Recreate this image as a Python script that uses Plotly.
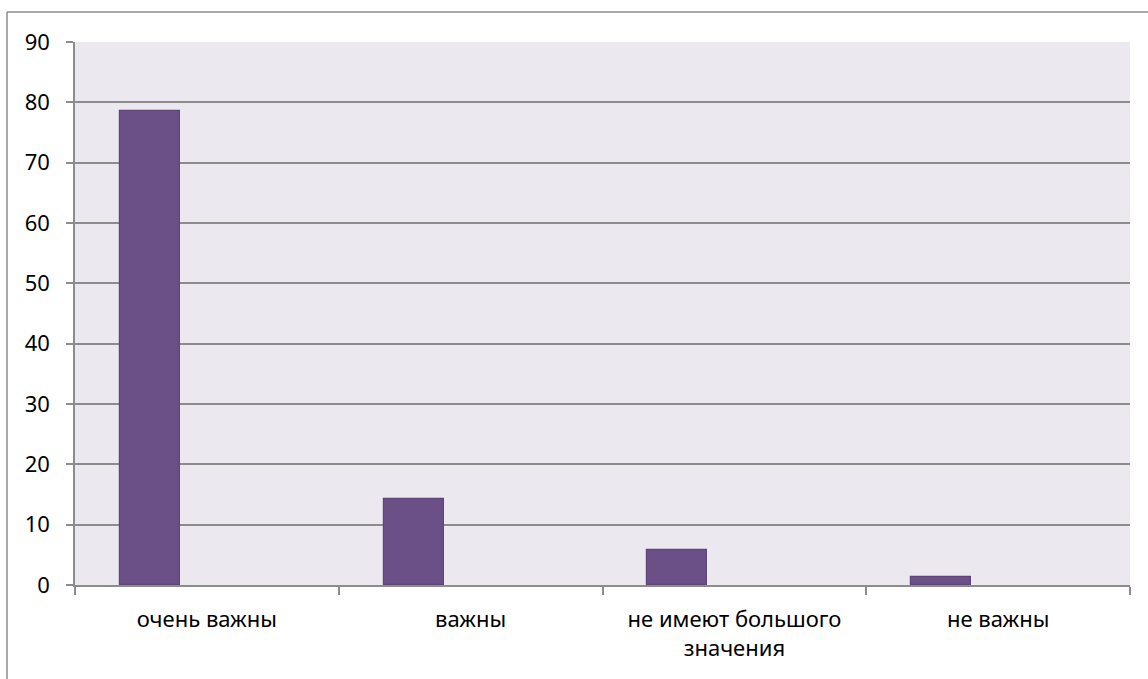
import plotly.graph_objects as go

categories = ["очень важны", "важны", "не имеют большого<br>значения", "не важны"]
values = [78.6, 14.3, 5.8, 1.3]
y_ticks = [0, 10, 20, 30, 40, 50, 60, 70, 80, 90]

W, H = 1148, 679
L, R, T, B = 75, 18, 42, 94
pw = W - L - R
ph = H - T - B

def px_x(x):
    return (x - L) / pw

def px_y(y):
    return 1 - (y - T) / ph

fig = go.Figure()
fig.add_trace(go.Bar(
    x=categories, y=values,
    width=0.228, offset=-0.33,
    marker=dict(color="#6A5087", line=dict(color="#5E4678", width=1.2)),
    showlegend=False,
))

grid = "#8C8C8C"
font = dict(family="Noto Sans, Open Sans, sans-serif", size=22, color="#000000")

fig.update_layout(
    width=W, height=H,
    margin=dict(l=L, r=R, t=T, b=B),
    paper_bgcolor="#FFFFFF",
    plot_bgcolor="#EBE9EF",
    font=font,
    bargap=0,
    xaxis=dict(
        type="category",
        tickson="boundaries",
        ticks="outside", ticklen=8, tickwidth=1.5, tickcolor=grid,
        showline=True, linecolor=grid, linewidth=1.5,
        showgrid=False,
        tickfont=font,
        ticklabelstandoff=14,
        range=[-0.5, 3.5],
    ),
    yaxis=dict(
        range=[0, 90],
        tickvals=y_ticks,
        ticks="outside", ticklen=7, tickwidth=1.5, tickcolor=grid,
        showline=True, linecolor=grid, linewidth=1.5,
        showgrid=True, gridcolor=grid, gridwidth=1.5,
        zeroline=False,
        tickfont=font,
        ticklabelstandoff=12,
    ),
    shapes=[
        dict(type="line", xref="paper", yref="paper",
             x0=px_x(7), x1=px_x(W + 5), y0=px_y(12), y1=px_y(12),
             line=dict(color=grid, width=1.5)),
        dict(type="line", xref="paper", yref="paper",
             x0=px_x(7), x1=px_x(7), y0=px_y(12), y1=px_y(H + 5),
             line=dict(color=grid, width=1.5)),
    ],
)

fig.write_html("out.html", config={"displayModeBar": False},
               post_script="document.body.style.margin='0';document.body.style.overflow='hidden';")
